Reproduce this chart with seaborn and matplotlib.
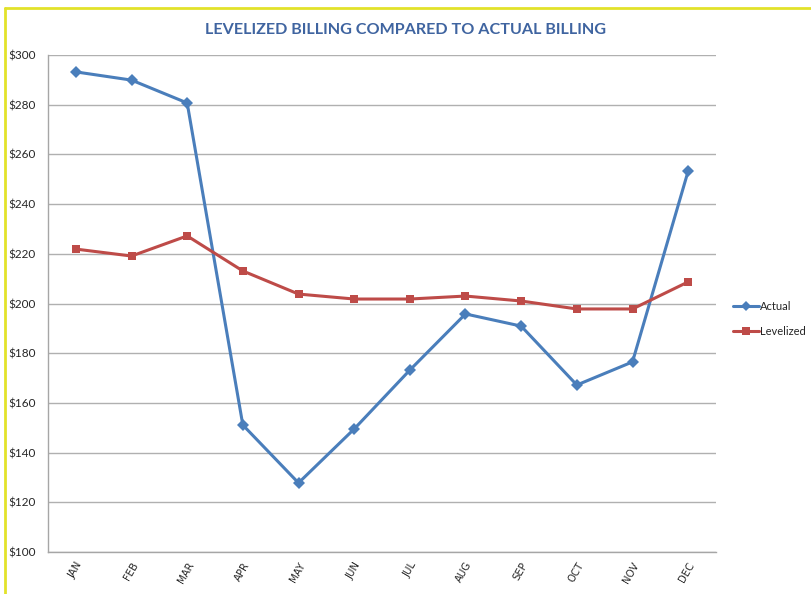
import matplotlib
matplotlib.use("Agg")
import matplotlib.pyplot as plt
import pandas as pd
import seaborn as sns
from matplotlib.lines import Line2D
from matplotlib.ticker import FuncFormatter, MultipleLocator

months = ['JAN', 'FEB', 'MAR', 'APR', 'MAY', 'JUN', 'JUL', 'AUG', 'SEP', 'OCT', 'NOV', 'DEC']
actual = [293.2, 289.9, 280.7, 151.1, 127.8, 149.5, 173.2, 195.8, 190.9, 167.2, 176.5, 253.3]
levelized = [221.9, 219.1, 227.2, 213.1, 203.8, 201.8, 201.8, 203.0, 201.0, 197.8, 197.8, 208.7]

series_names = ['Actual', 'Levelized']
colors = {'Actual': '#4A7EBB', 'Levelized': '#BE4B48'}
markers = {'Actual': 'D', 'Levelized': 's'}

df = pd.DataFrame({
    'month': months * 2,
    'pos': list(range(len(months))) * 2,
    'value': actual + levelized,
    'series': ['Actual'] * len(months) + ['Levelized'] * len(months),
})

sns.set_theme(style='white')
plt.rcParams['font.family'] = ['Lato', 'DejaVu Sans']

fig = plt.figure(figsize=(8.11, 5.94), dpi=100)
ax = fig.add_axes([48 / 811, 1 - 552 / 594, 668 / 811, 497 / 594])

sns.lineplot(data=df, x='pos', y='value', hue='series', style='series',
             palette=colors, markers=markers, dashes=False, linewidth=2.2,
             markersize=6, markeredgewidth=0, ax=ax, legend=False)

ax.set_xlim(-0.5, len(months) - 0.5)
ax.set_ylim(100, 300)
ax.yaxis.set_major_locator(MultipleLocator(20))
ax.yaxis.set_major_formatter(FuncFormatter(lambda v, p: f'${v:.0f}'))
ax.set_xticks(range(len(months)))
ax.set_xticklabels(months, rotation=60, ha='right', rotation_mode='anchor',
                   fontsize=7.3, family='DejaVu Sans')
ax.tick_params(axis='y', labelsize=8.5, length=0, pad=9)
ax.tick_params(axis='x', length=0, pad=6)
ax.set_xlabel('')
ax.set_ylabel('')

ax.grid(axis='y', color='#B0B0B0', linewidth=1)
ax.grid(axis='x', visible=False)
for side in ['top', 'right']:
    ax.spines[side].set_visible(False)
for side in ['left', 'bottom']:
    ax.spines[side].set_color('#A6A6A6')
    ax.spines[side].set_linewidth(1)

handles = [Line2D([0], [0], color=colors[s], marker=markers[s], linewidth=2.2,
                  markersize=6 if s == 'Levelized' else 5, markeredgewidth=0)
           for s in series_names]
fig.legend(handles, series_names, loc='center left',
           bbox_to_anchor=(733 / 811, 1 - 319 / 594), frameon=False,
           fontsize=8, handlelength=2.3, handletextpad=0.1, labelspacing=1.25,
           borderpad=0, borderaxespad=0)

fig.text(0.5 + 0 / 811, 1 - 30 / 594, 'LEVELIZED BILLING COMPARED TO ACTUAL BILLING',
         ha='center', va='center', fontsize=11.6, fontweight='bold', color='#3F64A0')

# yellow frame (left and top edges)
fig.add_artist(Line2D([5 / 811, 5 / 811], [0, 1 - 8 / 594], color='#E2E22A', linewidth=2))
fig.add_artist(Line2D([5 / 811, 1], [1 - 8 / 594, 1 - 8 / 594], color='#E2E22A', linewidth=2))

fig.savefig('out.png', dpi=100)
